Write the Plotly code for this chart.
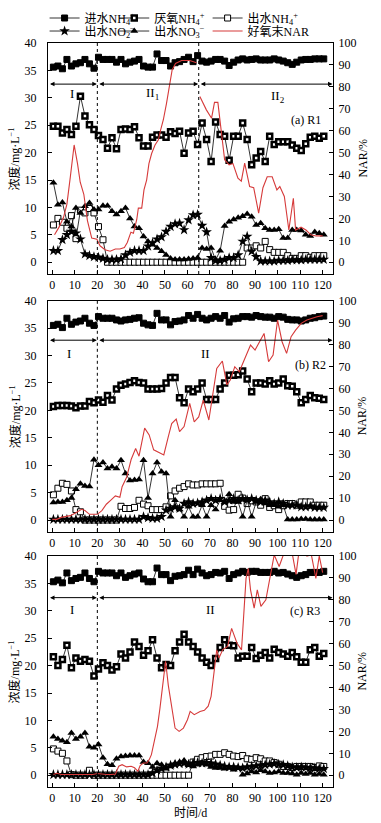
import plotly.graph_objects as go

# ---------------- data ----------------
DAYS = [0.5 + 2 * k for k in range(61)]

# Panel (a) R1
INF_A = [35.6, 35.8, 35.3, 37.0, 35.8, 36.2, 36.4, 37.0, 36.2, 35.4,
         37.4, 37.0, 37.0, 37.0, 36.5, 37.0, 36.2, 36.5, 36.7, 37.0,
         35.8, 35.6, 35.6, 38.0, 36.8, 36.8, 35.8, 36.4, 36.6, 37.0,
         37.4, 36.6, 37.7, 36.7, 36.5, 36.7, 37.0, 37.0, 36.7, 35.9,
         36.5, 36.9, 37.1, 36.9, 37.0, 37.1, 36.9, 36.9, 36.9, 37.1,
         36.9, 36.7, 36.4, 36.1, 36.5, 36.9, 37.0, 37.0, 37.1, 37.1, 37.1]
ANA_A = [24.8, 24.8, 23.6, 24.2, 23.3, 24.8, 30.3, 26.7, 25.1, 24.2,
         23.1, 22.4, 20.8, 22.7, 20.7, 24.2, 24.3, 24.2, 24.7, 22.7,
         21.2, 21.2, 22.8, 23.2, 23.2, 22.8, 23.8, 23.5, 23.9, 19.9,
         23.6, 23.9, 21.5, 25.4, 22.4, 18.4, 25.6, 23.3, 23.0, 18.6,
         23.0, 23.0, 25.4, 22.4, 17.8, 19.0, 20.2, 18.4, 23.0, 21.5,
         22.0, 22.0, 22.0, 21.4, 20.8, 20.4, 21.6, 22.8, 23.0, 22.6, 23.0]
EFF_A = [6.8, 8.0, 7.3, 6.2, 8.5, 4.3, 9.5, 9.0, 9.8, 9.0,
         6.5, 4.1, 0, 0, 0, 0, 0, 0, 0, 0,
         0, 0, 0, 0, 0, 0, 0, 0, 0, 0,
         0, 0, 0, 0, 0, 0, 0, 0, 0, 0,
         0, 0, 0, 2.6, 2.6, 3.0, 2.6, 3.8, 2.3, 1.8,
         1.8, 1.8, 1.2, 0.7, 0.7, 1.2, 1.2, 0.9, 1.2, 1.2, 1.2]
NO2_A = [2.1, 2.1, 4.1, 5.0, 5.6, 5.3, 4.2, 1.5, 1.2, 1.0,
         0.9, 0.7, 0.5, 0.5, 0.5, 0.6, 1.3, 1.8, 2.1, 2.1,
         2.1, 2.9, 3.5, 4.2, 4.6, 5.6, 6.5, 7.0, 7.1, 5.9,
         7.7, 8.6, 8.7, 6.7, 5.5, 0.8, 0.3, 0.3, 0.5, 0.8,
         0.8, 1.3, 3.8, 4.7, 2.0, 1.0, 0.2, 0.2, 0.2, 0.2,
         0.3, 0.3, 0.3, 0.4, 0.4, 0.4, 0.5, 0.5, 0.5, 0.5, 0.5]
NO3_A = [14.5, 10.5, 10.9, 7.4, 6.5, 9.9, 9.0, 10.2, 10.8, 9.6,
         9.6, 10.3, 10.3, 9.3, 8.7, 9.3, 9.9, 8.0, 6.5, 6.2,
         4.7, 3.8, 3.2, 2.6, 2.0, 1.3, 0.7, 0.5, 0.5, 0.5,
         0.6, 0.7, 0.8, 2.6, 2.4, 2.6, 0.4, 2.1, 6.6, 7.4,
         7.8, 8.1, 8.4, 8.8, 8.3, 6.8, 7.1, 6.2, 5.9, 5.9,
         6.0, 4.4, 4.4, 5.9, 5.9, 5.8, 5.0, 4.8, 5.5, 5.3, 5.0]
NAR_A_DAYS = [1, 3, 5, 6.5, 8, 9.7, 11.2, 12.4, 14, 15.6, 17.5, 19.8, 21.2, 23.4,
              25.7, 28, 30, 32, 33.3, 34.9, 36, 37.5, 38.2, 39.7, 40.7, 41.9, 42.9,
              44.1, 45.6, 47.1, 48.1, 49.3, 50.7, 51.8, 53.2, 54.7, 57.4, 61, 64,
              65, 65.5, 68.4, 70.7, 72, 73.5, 75, 76.5, 78.5, 80.2, 82.4, 83.9, 85.4,
              87.6, 89.4, 91.6, 93.5, 95.4, 97.6, 99.7, 101, 103, 105, 107, 108,
              110.4, 112.6, 114.8, 117, 120]
NAR_A = [12.5, 16, 20.5, 26.5, 38.8, 53.5, 45, 36.5, 31, 19, 11, 10.5, 7.5, 5.7,
         5, 6, 6, 6.7, 9, 13.7, 13.2, 19.5, 24.7, 24.7, 33, 37.6, 45,
         49.6, 53.5, 55.8, 60.4, 65, 72.5, 80, 87.7, 90.7, 92, 92, 91,
         None, 75.6, 69.5, 65.7, 72.9, 72.9, 60.4, 46.7, 44.4, 45, 38.3, 37, 45.2,
         34.5, 34, 22.4, 34, 39, 39, 33, 34.5, 30, 14.7, 29.2, 14.7,
         16, 14.7, 12.5, 12, 12]

# Panel (b) R2
INF_B = [35.5, 35.7, 35.1, 36.8, 35.7, 36.1, 36.3, 36.8, 35.9, 35.5,
         37.1, 36.8, 36.8, 36.8, 36.5, 36.3, 36.5, 36.6, 36.8, 36.9,
         35.9, 35.6, 35.5, 37.7, 36.5, 36.5, 35.6, 36.2, 36.3, 36.5,
         37.3, 36.8, 37.5, 36.8, 36.5, 36.8, 37.1, 36.8, 37.3, 36.1,
         36.7, 36.8, 37.1, 37.1, 37.0, 37.3, 37.1, 37.0, 37.0, 36.8,
         37.1, 37.0, 36.6, 36.5, 36.5, 36.3, 36.5, 36.8, 36.9, 37.1, 37.2]
ANA_B = [20.7, 20.9, 20.9, 20.9, 20.8, 20.5, 20.8, 20.8, 21.6, 21.4,
         21.9, 21.5, 22.7, 21.9, 23.9, 24.6, 24.8, 25.1, 25.4, 25.1,
         25.0, 23.9, 23.9, 23.9, 24.0, 25.0, 26.0, 26.0, 22.3, 21.4,
         23.9, 23.4, 23.9, 25.0, 22.0, 22.0, 22.0, 23.9, 25.0, 26.4,
         26.4, 26.5, 27.2, 25.7, 23.4, 25.0, 25.0, 24.8, 25.4, 24.8,
         25.0, 25.7, 24.5, 24.4, 23.4, 21.4, 22.0, 22.7, 22.3, 22.2, 22.0]
EFF_B = [4.6, 5.8, 6.7, 6.5, 5.3, 1.9, 1.5, 0, 0, 0,
         0, 0, 0, 0, 0, 2.5, 2.1, 2.1, 2.3, 3.6,
         2.9, 2.6, 1.9, 1.9, 1.9, 2.4, 4.4, 5.3, 5.8, 6.1,
         6.6, 6.4, 6.4, 6.6, 6.6, 6.6, 6.6, 6.7, 2.5, 1.8,
         1.9, 4.7, 4.0, 3.0, 3.5, 3.3, 2.7, 3.9, 2.3, 2.6,
         1.9, 2.6, 3.0, 3.0, 2.7, 3.3, 3.3, 3.3, 2.7, 2.7, 2.7]
NO2_B = [0.1, 0.1, 0.1, 0.1, 0.1, 0.1, 0.1, 0.1, 0.1, 0.1,
         0.1, 0.1, 0.1, 0.1, 0.1, 0.1, 0.1, 0.1, 0.1, 0.1,
         0.6, 0.4, 0.3, 0.3, 0.6, 1.8, 2.1, 2.4, 2.1, 3.0,
         3.3, 3.0, 3.1, 3.3, 3.6, 3.9, 3.6, 3.9, 3.3, 3.6,
         3.9, 3.6, 3.9, 3.7, 3.9, 3.6, 3.3, 3.6, 3.3, 3.0,
         3.3, 3.0, 2.7, 2.7, 2.7, 2.4, 2.4, 2.5, 2.3, 2.3, 2.3]
NO3_B = [3.2, 3.3, 3.3, 3.6, 4.0, 5.6, 6.6, 6.2, 6.1, 11.0,
         10.0, 10.5, 9.4, 9.7, 9.4, 10.9, 8.5, 7.2, 7.3, 7.4,
         10.9, 4.0, 8.5, 10.5, 8.8, 8.5, 0.6, 3.6, 1.9, 0.6,
         2.4, 0.6, 0.6, 2.7, 0.6, 2.7, 1.9, 3.6, 3.3, 4.7,
         3.3, 3.3, 0.6, 3.6, 0.6, 3.3, 3.8, 3.0, 2.7, 2.7,
         2.4, 2.7, 0.1, 0.1, 0.1, 0.2, 0.2, 0.1, 0.1, 0.1, 0.1]
NAR_B_DAYS = [0, 2, 4, 6, 8, 10.5, 13, 14.5, 16.5, 18.5, 20, 22, 24, 26, 28, 30, 31,
              33, 35, 37, 38.5, 41, 43, 45, 47, 49.5, 51.5, 53, 55, 56.5, 58.5, 61,
              63, 65, 67, 69.5, 73, 75.5, 77.5, 79, 81, 83, 85, 88, 90, 94, 96, 98,
              100, 102, 104, 106, 108, 110.5, 113, 115, 117.5, 120]
NAR_B = [0.3, 0.3, 1.2, 1.5, 2.0, 3.3, 4.9, 4.3, 2.6, 2.6, 2.6, 4.3, 7.2, 9.1, 11, 10.4, 15.2,
         19.5, 27.6, 32.6, 29.1, 41.9, 38.8, 32, 31, 29.7, 38, 44, 46, 40.3, 42.6, 53.2,
         44.8, 47, 54.7, 45.6, 69.1, 72.5, 61.6, 63.8, 69.9, 67.6, 72.5, 79.8, 77.5, 85.1, 72.2, 75.2,
         91.2, 81.3, 76, 83.6, 86.6, 89.7, 91.2, 92, 92.7, 93.2]

# Panel (c) R3
INF_C = [35.3, 35.6, 35.1, 36.9, 35.5, 35.9, 36.1, 36.9, 35.9, 35.3,
         37.2, 36.9, 36.9, 36.9, 36.4, 36.9, 36.1, 36.4, 36.7, 36.9,
         35.8, 35.3, 35.3, 37.8, 36.6, 36.6, 35.5, 36.3, 36.4, 36.6,
         37.4, 36.6, 37.6, 36.9, 36.4, 36.6, 37.0, 36.9, 37.2, 35.9,
         36.6, 36.9, 37.2, 37.0, 37.2, 37.2, 37.0, 37.0, 37.0, 37.2,
         36.9, 37.0, 36.7, 36.4, 36.1, 36.4, 36.6, 37.0, 37.0, 37.0, 37.2]
ANA_C = [21.6, 20.0, 21.1, 23.7, 19.6, 21.4, 20.8, 21.1, 20.8, 18.1,
         19.4, 20.5, 20.0, 19.2, 19.8, 22.1, 21.4, 22.5, 24.3, 23.5,
         21.9, 22.7, 24.7, 21.4, 19.6, 20.2, 20.0, 22.7, 24.3, 25.7,
         24.3, 23.5, 22.5, 21.4, 20.6, 20.0, 21.3, 23.3, 24.7, 23.7,
         23.6, 21.4, 21.7, 21.7, 23.3, 21.3, 21.9, 22.4, 21.4, 23.0,
         22.4, 22.1, 21.7, 22.4, 21.6, 20.6, 20.6, 22.9, 23.3, 21.7, 22.2]
EFF_C = [4.8, 4.4, 4.0, 2.6, 0.1, 0, 0, 0, 0.9, 0,
         0, 0, 0, 0, 0, 0, 0, 0, 0, 0,
         0, 0, 0, 0, 0, 0, 0, 0, 0, 0,
         0, 2.4, 2.9, 3.2, 3.4, 3.5, 3.8, 3.8, 4.1, 3.8,
         3.5, 3.4, 3.6, 3.0, 2.9, 3.2, 3.0, 2.6, 2.6, 2.3,
         2.0, 1.6, 1.6, 1.4, 1.6, 1.6, 1.6, 1.6, 1.4, 1.7, 1.6]
NO2_C = [0.1, 0.1, 0.1, 0.1, 0.1, 0.1, 0.1, 0.1, 0.1, 0.1,
         0.1, 0.1, 0.1, 0.1, 0.1, 0.1, 0.1, 0.1, 0.1, 0.1,
         0.1, 0.1, 0.4, 0.9, 1.2, 1.5, 1.8, 2.0, 2.1, 2.2,
         2.0, 2.2, 2.3, 2.2, 2.3, 2.2, 2.0, 1.8, 1.6, 1.5,
         1.5, 1.4, 1.3, 1.5, 1.6, 1.7, 1.8, 1.9, 2.0, 2.1,
         2.0, 1.9, 1.7, 1.5, 1.4, 1.5, 1.4, 1.3, 1.3, 1.2, 1.2]
NO3_C = [7.0, 6.6, 6.3, 6.0, 7.7, 6.6, 7.0, 7.7, 5.2, 5.0,
         5.6, 3.2, 2.0, 1.8, 3.0, 3.4, 3.5, 3.6, 3.6, 3.6,
         2.4, 2.2, 1.5, 2.2, 1.9, 1.2, 1.6, 2.2, 2.4, 2.7,
         1.8, 1.6, 1.9, 2.2, 1.9, 1.5, 1.3, 1.3, 1.2, 1.3,
         1.0, 1.3, 0.1, 0.3, 0.7, 0.5, 0.9, 0.7, 0.4, 0.5,
         0.7, 0.4, 0.4, 0.3, 0.1, 0.4, 0.2, 0.4, 0.1, 0.2, 0.1]
NAR_C_DAYS = [0.5, 2, 4, 6, 8, 10, 12, 14, 16, 18, 20, 22, 24, 26, 28, 29.5, 31, 33, 35,
              36.5, 38, 39, 40.5, 42, 43, 44, 45.2, 46.7, 47.8, 49, 50.3, 51.5, 53,
              54.5, 56.3, 58.2, 60, 61.2, 63, 65.6, 67.5, 69.2, 70.5, 71.5, 73, 74,
              75.6, 77.8, 79.6, 82, 84, 86, 87, 88, 89.6, 91, 92.6, 94.8, 96.2, 98.5,
              100.7, 102.5, 104.5, 106, 108.2, 109.5, 111, 113, 115, 117, 118.5, 120]
NAR_C = [0.3, 0.9, 0.3, 0.3, 0.5, 0.3, 0.5, 0.3, 0.5, 0.3, 0.8, 0.5, 0.3, 0.3, 0.5, 4.1, 4.8, 3.8, 4.1,
         3.4, 1.8, 4.4, 5.6, 5.6, 7.1, 9.4, 15.5, 22.3, 30.6, 40, 52, 41, 30.6,
         21.5, 20, 21.5, 25.3, 29.1, 27.6, 29.1, 29.6, 31.5, 36, 43.6, 57.2, 53.4,
         57.2, 58.7, 67, 60.2, 57.2, 89.8, 94.3, 84.5, 76.2, 84.5, 77, 80, 87.6, 100.5,
         95.2, 100, 106, 104, 91.6, 102, 104, 100, 100.5, 89.8, 100, 92.4]

SERIES_NAMES = ["进水NH<sub>4</sub><sup>+</sup>", "厌氧NH<sub>4</sub><sup>+</sup>",
                "出水NH<sub>4</sub><sup>+</sup>", "出水NO<sub>2</sub><sup>−</sup>",
                "出水NO<sub>3</sub><sup>−</sup>"]
NAR_NAME = "好氧末NAR"
PANEL_LABELS = ["(a) R1", "(b) R2", "(c) R3"]
Y_LEFT_TITLE = "浓度/mg·L<sup>−1</sup>"
Y_RIGHT_TITLE = "NAR/%"
X_TITLE = "时间/d"

# ---------------- styling ----------------
FONT = "Liberation Serif, 'Times New Roman', 'Noto Sans CJK SC', serif"
RED = "#d63a3a"
MARKERS = [
    dict(symbol="square", size=6, color="black", line=dict(color="black", width=1)),
    dict(symbol="square", size=5, color="white", line=dict(color="black", width=2.5)),
    dict(symbol="square", size=6, color="white", line=dict(color="black", width=1)),
    dict(symbol="star", size=8, color="black", line=dict(color="black", width=0)),
    dict(symbol="triangle-up", size=7, color="black", line=dict(color="black", width=0)),
]
# one legend box per entry: 3 columns x 2 rows
LEGEND_OF = ["legend", "legend2", "legend3", "legend4", "legend5"]
NAR_LEGEND = "legend6"
COL_X = [-0.012, 0.2325, 0.56]
ROW_Y = [1.0336, 1.0161]

panels = [
    dict(conc=[INF_A, ANA_A, EFF_A, NO2_A, NO3_A], nd=NAR_A_DAYS, nar=NAR_A,
         x="x", yl="y", yr="y2", dom=[0.6895, 1.0]),
    dict(conc=[INF_B, ANA_B, EFF_B, NO2_B, NO3_B], nd=NAR_B_DAYS, nar=NAR_B,
         x="x2", yl="y3", yr="y4", dom=[0.343, 0.6536]),
    dict(conc=[INF_C, ANA_C, EFF_C, NO2_C, NO3_C], nd=NAR_C_DAYS, nar=NAR_C,
         x="x3", yl="y5", yr="y6", dom=[0.0, 0.3105]),
]

fig = go.Figure()
for pi, p in enumerate(panels):
    for si, vals in enumerate(p["conc"]):
        fig.add_trace(go.Scatter(
            x=DAYS, y=vals, mode="lines+markers", name=SERIES_NAMES[si],
            line=dict(color="black", width=0.8), marker=MARKERS[si],
            xaxis=p["x"], yaxis=p["yl"], showlegend=(pi == 0), legend=LEGEND_OF[si]))
    fig.add_trace(go.Scatter(
        x=p["nd"], y=p["nar"], mode="lines", name=NAR_NAME,
        line=dict(color=RED, width=1.1), connectgaps=False,
        xaxis=p["x"], yaxis=p["yr"], showlegend=(pi == 0), legend=NAR_LEGEND))

XR = [-1.9, 124.6]
YL = [-2.15, 40]
YR = [-5.375, 100]

def xax(anchor):
    return dict(range=XR, tickvals=list(range(0, 121, 10)), ticks="inside", ticklen=4,
                tickcolor="black", showline=True, linecolor="black", linewidth=1,
                mirror=True, showgrid=False, zeroline=False, anchor=anchor,
                domain=[0, 1], tickfont=dict(size=12))

def ylax(dom, anchor):
    return dict(range=YL, tickvals=list(range(0, 41, 5)), ticks="inside", ticklen=4,
                tickcolor="black", showline=True, linecolor="black", linewidth=1,
                mirror=True, showgrid=False, zeroline=False, anchor=anchor, domain=dom,
                ticklabelstandoff=8, tickfont=dict(size=12))

def yrax(overlay, anchor):
    return dict(range=YR, tickvals=list(range(0, 101, 10)), ticks="inside", ticklen=4,
                tickcolor="black", showline=True, linecolor="black", linewidth=1,
                showgrid=False, zeroline=False, side="right", overlaying=overlay,
                anchor=anchor, tickfont=dict(size=12), ticklabelstandoff=2)

def leg(col, row):
    return dict(orientation="v", yanchor="middle", xanchor="left", x=COL_X[col], y=ROW_Y[row],
                font=dict(size=12), bgcolor="rgba(0,0,0,0)", itemwidth=30, tracegroupgap=0)

layout = dict(
    width=381, height=823,
    margin=dict(l=48, r=48, t=43, b=36, autoexpand=False),
    paper_bgcolor="white", plot_bgcolor="white",
    font=dict(family=FONT, size=12, color="black"),
    xaxis=xax("y"), xaxis2=xax("y3"), xaxis3=xax("y5"),
    yaxis=ylax(panels[0]["dom"], "x"), yaxis2=yrax("y", "x"),
    yaxis3=ylax(panels[1]["dom"], "x2"), yaxis4=yrax("y3", "x2"),
    yaxis5=ylax(panels[2]["dom"], "x3"), yaxis6=yrax("y5", "x3"),
    legend=leg(0, 0), legend2=leg(1, 0), legend3=leg(2, 0),
    legend4=leg(0, 1), legend5=leg(1, 1), legend6=leg(2, 1),
)
fig.update_layout(**layout)

# dotted phase boundaries
shapes = []
bounds = [[20, 65], [20], [20]]
for p, bl in zip(panels, bounds):
    for b in bl:
        shapes.append(dict(type="line", xref=p["x"], yref=p["yl"] + " domain",
                           x0=b, x1=b, y0=0, y1=1,
                           line=dict(color="black", width=1, dash="dot")))
fig.update_layout(shapes=shapes)

# phase arrows, labels and axis titles
ann = []
arrow_y = [32.5, 32.8, 32.4]
seg = [[(XR[0], 20), (20, 65), (65, XR[1])], [(XR[0], 20), (20, XR[1])], [(XR[0], 20), (20, XR[1])]]
texts = [[("I", 8.8, 30.8), ("II<sub>1</sub>", 44.7, 30.8), ("II<sub>2</sub>", 100, 30.3)],
         [("I", 7.6, 30.4), ("II", 68, 30.4)],
         [("I", 8.9, 30.2), ("II", 70.4, 30.2)]]
label_pos = [(120, 26), (122.5, 28.3), (119.5, 29.9)]
for pi, p in enumerate(panels):
    for (a0, a1) in seg[pi]:
        ann.append(dict(x=a1, y=arrow_y[pi], ax=a0, ay=arrow_y[pi], xref=p["x"], yref=p["yl"],
                        axref=p["x"], ayref=p["yl"], text="", showarrow=True,
                        arrowhead=2, startarrowhead=2, arrowside="end+start",
                        arrowsize=0.9, arrowwidth=1, arrowcolor="black",
                        standoff=0.5, startstandoff=0.5))
    for (t, tx, ty) in texts[pi]:
        ann.append(dict(x=tx, y=ty, xref=p["x"], yref=p["yl"], text=t, showarrow=False,
                        font=dict(size=13)))
    lx, ly = label_pos[pi]
    ann.append(dict(x=lx, y=ly, xref=p["x"], yref=p["yl"], text=PANEL_LABELS[pi],
                    showarrow=False, xanchor="right", font=dict(size=12)))
    yc = (p["dom"][0] + p["dom"][1]) / 2
    ann.append(dict(x=-0.116, y=yc, xref="paper", yref="paper", text=Y_LEFT_TITLE,
                    textangle=-90, showarrow=False, xanchor="center", yanchor="middle",
                    font=dict(size=12)))
    ann.append(dict(x=1.102, y=yc, xref="paper", yref="paper", text=Y_RIGHT_TITLE,
                    textangle=-90, showarrow=False, xanchor="center", yanchor="middle",
                    font=dict(size=12)))
ann.append(dict(x=0.5, y=-0.035, xref="paper", yref="paper", text=X_TITLE,
                showarrow=False, xanchor="center", yanchor="middle", font=dict(size=12)))
fig.update_layout(annotations=ann)

fig.write_html("out.html", config={"displayModeBar": False},
               post_script="document.body.style.margin='0px';document.body.style.padding='0px';")
